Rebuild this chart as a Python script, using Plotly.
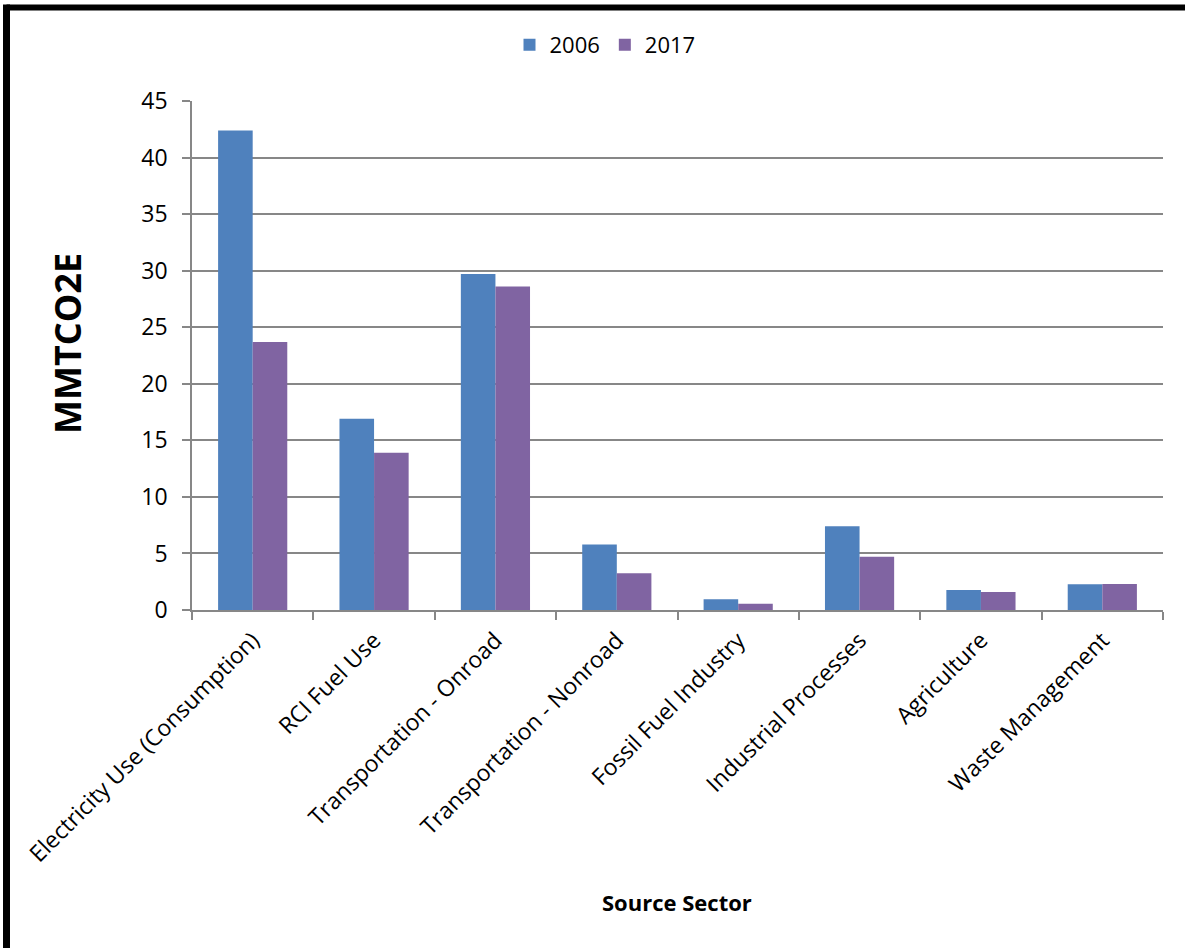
import plotly.graph_objects as go

categories = ["Electricity Use (Consumption)", "RCI Fuel Use", "Transportation - Onroad",
              "Transportation - Nonroad", "Fossil Fuel Industry", "Industrial Processes",
              "Agriculture", "Waste Management"]
values_2006 = [42.4, 16.9, 29.7, 5.8, 0.95, 7.4, 1.77, 2.27]
values_2017 = [23.7, 13.9, 28.6, 3.25, 0.56, 4.7, 1.6, 2.3]
y_ticks = [0, 5, 10, 15, 20, 25, 30, 35, 40, 45]

FONT = "Open Sans"
W, H = 1185, 948
L, R, T, B = 192, 22, 101, 338
pw, ph = W - L - R, H - T - B

def px_x(px):
    return (px - L) / pw

def px_y(py):
    return (H - B - py) / ph

fig = go.Figure()
fig.add_trace(go.Bar(name="2006", x=categories, y=values_2006, marker=dict(color="#4F81BD", line=dict(width=0))))
fig.add_trace(go.Bar(name="2017", x=categories, y=values_2017, marker=dict(color="#8064A2", line=dict(width=0))))

fig.update_layout(
    width=W, height=H,
    margin=dict(l=L, r=R, t=T, b=B, autoexpand=False),
    paper_bgcolor="white", plot_bgcolor="white",
    barmode="group", bargap=0.43, bargroupgap=0,
    font=dict(family=FONT, color="black"),
    showlegend=True,
    legend=dict(orientation="h", x=px_x(605), xanchor="center", y=px_y(45), yanchor="middle",
                font=dict(size=22, family=FONT), itemwidth=30, traceorder="normal"),
    xaxis=dict(showgrid=False, showline=True, linecolor="#878787", linewidth=1.5,
               ticks="outside", tickson="boundaries", ticklen=8, tickcolor="#878787", tickwidth=1.5,
               tickangle=-45, tickfont=dict(size=23, family=FONT), ticklabelstandoff=6,
               automargin=False),
    yaxis=dict(range=[0, 45], tickvals=y_ticks, showgrid=True, gridcolor="#878787", gridwidth=1.5,
               showline=True, linecolor="#878787", linewidth=1.5, ticks="outside", ticklen=8,
               tickcolor="#878787", tickwidth=1.5, tickfont=dict(size=23, family=FONT),
               ticklabelstandoff=10, zeroline=False, automargin=False),
    annotations=[
        dict(text="<b>MMTCO2E</b>", xref="paper", yref="paper", x=px_x(67), y=px_y(344),
             xanchor="center", yanchor="middle", textangle=-90, showarrow=False,
             font=dict(size=36, family=FONT, color="black")),
        dict(text="<b>Source Sector</b>", xref="paper", yref="paper", x=px_x(677), y=px_y(902),
             xanchor="center", yanchor="middle", showarrow=False,
             font=dict(size=22, family=FONT, color="black")),
    ],
    shapes=[
        dict(type="line", xref="paper", yref="paper", x0=px_x(6.5), x1=px_x(1200), y0=px_y(7.5), y1=px_y(7.5),
             line=dict(color="black", width=6)),
        dict(type="line", xref="paper", yref="paper", x0=px_x(6.5), x1=px_x(6.5), y0=px_y(4.5), y1=px_y(960),
             line=dict(color="black", width=7)),
    ],
)

fig.write_html("out.html")
